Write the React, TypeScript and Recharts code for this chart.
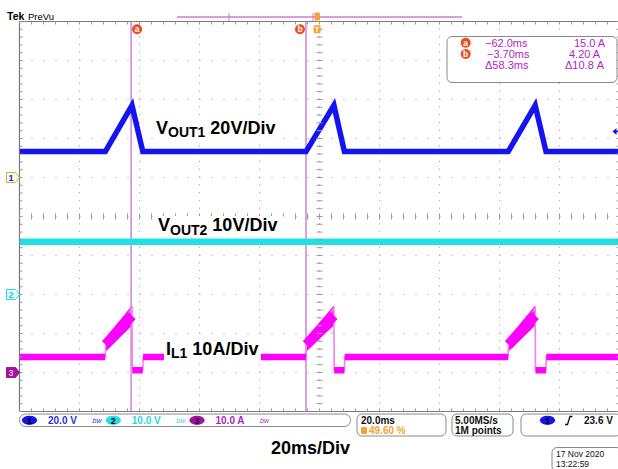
import React from "react";
import {
  ComposedChart,
  Line,
  Area,
  Scatter,
  XAxis,
  YAxis,
  ReferenceLine,
  ReferenceDot,
} from "recharts";

// time base: 20 ms/div, trigger at 49.60 % of the record (t in ms)
const timeTicks = [-99.2, -79.2, -59.2, -39.2, -19.2, 0.8, 20.8, 40.8, 60.8, 80.8, 100.8];
const divTicks = [-5, -4, -3, -2, -1, 0, 1, 2, 3, 4, 5];

// channels: units per div, ground marker position (div from centre)
const channelIds = ["ch1", "ch2", "ch3"];
const channelNames = ["1", "2", "3"];
const channelScale = [20, 10, 10];
const channelOffset = [1, -2, -4];
const channelReadout = ["20.0 V", "10.0 V", "10.0 A"];

// VOUT1 (V)
const vout1Time = [-99.2, -70.6, -61.7, -58.1, -3.7, 5.6, 9.1, 63.7, 72.7, 76.3, 100.8];
const vout1Volts = [13.3, 13.3, 37.0, 13.3, 13.3, 37.0, 13.3, 13.3, 37.0, 13.3, 13.3];

// VOUT2 (V)
const vout2Time = [-99.2, 100.8];
const vout2Volts = [13.5, 13.5];

// IL1 (A)
const il1Time = [
  -99.2, -70.6, -70.5, -61.7, -61.6, -58.1, -58.0, -3.7, -3.6, 5.6, 5.7, 9.1, 9.2,
  63.7, 63.8, 72.7, 72.8, 76.3, 76.4, 100.8,
];
const il1Amps = [
  4.0, 4.0, 7.0, 16.5, 0.6, 0.6, 4.0, 4.0, 7.0, 16.5, 0.6, 0.6, 4.0,
  4.0, 7.0, 16.5, 0.6, 0.6, 4.0, 4.0,
];

// IL1 ripple band on the ramps (A): [low, high] at ramp start and end
const rampStart = [-70.5, -3.6, 63.8];
const rampEnd = [-61.7, 5.6, 72.7];
const rampBandStart = [5.5, 8.8];
const rampBandEnd = [12.2, 17.0];

// cursors
const cursorNames = ["a", "b"];
const cursorTimes = [-62.0, -3.7];
const cursorTimeText = ["\u221262.0ms", "\u22123.70ms", "\u039458.3ms"];
const cursorAmpText = ["15.0 A", "4.20 A", "\u039410.8 A"];
const triggerLevel = 23.6;

const FONT = "'Liberation Sans', Arial, sans-serif";
const blue = "#1414f0";
const cyan = "#22dfe6";
const magenta = "#ff00ff";
const purpleText = "#b026c4";
const cursorColor = "#c983dc";
const orange = "#f5a232";
const tagRed = "#f04a1e";

const vout1Data = vout1Time.map((t, i) => ({ t, v: vout1Volts[i] }));
const vout2Data = vout2Time.map((t, i) => ({ t, v: vout2Volts[i] }));
const il1Data = il1Time.map((t, i) => ({ t, a: il1Amps[i] }));

// flat parts of IL1 drawn thick, edges stay thin
const il1Flats: { t: number; a: number | null }[] = [];
for (let i = 0; i < il1Time.length - 1; i++) {
  if (il1Amps[i] === il1Amps[i + 1]) {
    il1Flats.push({ t: il1Time[i], a: il1Amps[i] });
    il1Flats.push({ t: il1Time[i + 1], a: il1Amps[i + 1] });
    il1Flats.push({ t: il1Time[i + 1], a: null });
  }
}

const mid = (b: number[]) => (b[0] + b[1]) / 2;

// minor graticule ticks, 5 per division
const minorT: number[] = [];
for (let k = 0; k <= 50; k++) minorT.push(timeTicks[0] + (k * 20) / 5);
const minorD: number[] = [];
for (let k = 0; k <= 50; k++) minorD.push(-5 + k * 0.2);
const hTickData = minorT.flatMap((t) => [
  { t, d: 5, dir: "down" },
  { t, d: -5, dir: "up" },
  { t, d: 0, dir: "both" },
]);
const vTickData = minorD.flatMap((d) => [
  { t: timeTicks[0], d, dir: "right" },
  { t: timeTicks[10], d, dir: "left" },
  { t: timeTicks[5], d, dir: "both" },
]);

const gridGray = "#9a9a9a";

function HTick(p: any) {
  const { cx, cy, payload } = p;
  const up = payload.dir === "down" ? 0 : 3;
  const down = payload.dir === "up" ? 0 : 3;
  return <line x1={cx} x2={cx} y1={cy - up} y2={cy + down} stroke={gridGray} strokeWidth={1} />;
}

function VTick(p: any) {
  const { cx, cy, payload } = p;
  const l = payload.dir === "right" ? 0 : 3;
  const r = payload.dir === "left" ? 0 : 3;
  return <line x1={cx - l} x2={cx + r} y1={cy} y2={cy} stroke={gridGray} strokeWidth={1} />;
}

const markerStyle = [
  { fill: "#fffbe0", stroke: "#c9b14a", text: blue },
  { fill: "#eaffff", stroke: "#29d4dc", text: "#1fc3d4" },
  { fill: "#a0149c", stroke: "#a0149c", text: "#f6b0f2" },
];

function ChannelMarker({ cx, cy, i }: { cx: number; cy: number; i: number }) {
  const s = markerStyle[i];
  return (
    <g>
      <path
        d={`M${cx - 13},${cy - 5} H${cx - 4} L${cx},${cy} L${cx - 4},${cy + 5} H${cx - 13} Z`}
        fill={s.fill}
        stroke={s.stroke}
        strokeWidth={1}
      />
      <text x={cx - 8.5} y={cy + 3.5} fontSize={9} fontWeight="bold" fill={s.text} textAnchor="middle" fontFamily={FONT}>
        {channelNames[i]}
      </text>
    </g>
  );
}

function CursorTag({ cx, cy, i }: { cx: number; cy: number; i: number }) {
  const x = i === 0 ? cx + 6 : cx - 6;
  return (
    <g>
      <circle cx={x} cy={cy} r={5} fill={tagRed} />
      <text x={x} y={cy + 3} fontSize={8.5} fontWeight="bold" fill="#fff" textAnchor="middle" fontFamily={FONT}>
        {cursorNames[i]}
      </text>
    </g>
  );
}

function TriggerTag({ cx, cy }: { cx: number; cy: number }) {
  return (
    <g>
      <rect x={cx - 3.5} y={cy - 4} width={7} height={8} rx={1.5} fill={orange} />
      <text x={cx} y={cy + 3} fontSize={7.5} fontWeight="bold" fill="#fff" textAnchor="middle" fontFamily={FONT}>
        T
      </text>
    </g>
  );
}

function LevelArrow({ cx, cy }: { cx: number; cy: number }) {
  return (
    <g>
      <path d={`M${cx - 7},${cy} L${cx - 3},${cy - 3.5} L${cx - 3},${cy + 3.5} Z`} fill={blue} />
      <line x1={cx - 4} x2={cx - 1} y1={cy} y2={cy} stroke={blue} strokeWidth={1.5} />
    </g>
  );
}

function TraceLabel({
  x,
  y,
  main,
  sub,
  rest,
  w,
  below,
}: {
  x: number;
  y: number;
  main: string;
  sub: string;
  rest: string;
  w: number;
  below: number;
}) {
  return (
    <g>
      <rect x={x - 2} y={y - 15} width={w} height={15 + below} fill="#fff" />
      <text x={x} y={y} fontFamily={FONT} fontWeight="bold" fontSize={18} fill="#000">
        <tspan>{main}</tspan>
        <tspan fontSize={14} dy={3.5}>{sub}</tspan>
        <tspan dy={-3.5}>{" " + rest}</tspan>
      </text>
    </g>
  );
}

function Overlay() {
  const pill = (cx: number, fill: string, label: string, tc: string) => (
    <g>
      <ellipse cx={cx} cy={420.3} rx={7.6} ry={4.6} fill={fill} />
      <text x={cx} y={423.6} fontSize={9} fontWeight="bold" fill={tc} textAnchor="middle" fontFamily={FONT}>
        {label}
      </text>
    </g>
  );
  const bw = (x: number, c: string) => (
    <text x={x} y={423} fontSize={7} fontStyle="italic" fill={c} fontFamily={FONT}>
      bw
    </text>
  );
  const chColors = [blue, cyan, "#a0149c"];
  const chText = ["#2e2ee6", "#2fd6e0", purpleText];
  const chTextDark = ["#000", "#000", "#3a003a"];
  const chX = [29.5, 113.3, 197];
  return (
    <svg
      width={618}
      height={469}
      style={{ position: "absolute", left: 0, top: 0, pointerEvents: "none" }}
    >
      {/* header */}
      <text x={7} y={20} fontFamily={FONT} fontWeight="bold" fontSize={10.5} fill="#000">
        Tek
      </text>
      <text x={28} y={20} fontFamily={FONT} fontSize={9.5} fill="#000">
        PreVu
      </text>
      {/* record bar */}
      <line x1={177} x2={462} y1={17} y2={17} stroke="#d27ad8" strokeWidth={1.5} />
      <line x1={229} x2={229} y1={13} y2={21} stroke="#d27ad8" strokeWidth={1} />
      <line x1={313} x2={313} y1={13} y2={21} stroke="#d27ad8" strokeWidth={1} />
      <rect x={314.5} y={12.5} width={5.5} height={8} rx={1} fill={orange} />

      {/* cursor readout */}
      <rect x={447} y={36.5} width={170} height={46} rx={5} fill="#fff" stroke="#8a8a8a" strokeWidth={1} />
      {[0, 1, 2].map((r) => {
        const cy = 42.7 + r * 11.3;
        return (
          <g key={r}>
            {r < 2 && (
              <g>
                <circle cx={465.7} cy={cy} r={5} fill={tagRed} />
                <text x={465.7} y={cy + 3} fontSize={8.5} fontWeight="bold" fill="#fff" textAnchor="middle" fontFamily={FONT}>
                  {cursorNames[r]}
                </text>
              </g>
            )}
            <text x={r === 1 ? 487 : 485} y={cy + 4} fontSize={11} fill={purpleText} fontFamily={FONT}>
              {cursorTimeText[r]}
            </text>
            <text x={[574, 569, 565][r]} y={cy + 4} fontSize={11} fill={purpleText} fontFamily={FONT}>
              {cursorAmpText[r]}
            </text>
          </g>
        );
      })}

      {/* trace labels */}
      <TraceLabel x={156} y={133.5} main="V" sub="OUT1" rest="20V/Div" w={128} below={6} />
      <TraceLabel x={158} y={231} main="V" sub="OUT2" rest="10V/Div" w={128} below={5} />
      <TraceLabel x={166} y={354.5} main="I" sub="L1" rest="10A/Div" w={97} below={9} />

      {/* status bar */}
      <rect x={19.5} y={414} width={331} height={12.5} rx={6} fill="#fff" stroke="#8a8a8a" />
      {channelIds.map((id, i) => (
        <g key={id}>
          {pill(chX[i], chColors[i], channelNames[i], chTextDark[i])}
          <text x={chX[i] + 18.5} y={424.3} fontSize={10} fontWeight="bold" fill={chText[i]} fontFamily={FONT}>
            {channelReadout[i]}
          </text>
          {bw(chX[i] + 63, chText[i])}
        </g>
      ))}
      <rect x={357} y={414} width={89} height={22} rx={5} fill="#fff" stroke="#8a8a8a" />
      <text x={361} y={423.8} fontSize={10} fontWeight="bold" fill="#111" fontFamily={FONT}>
        20.0ms
      </text>
      <rect x={361} y={427} width={6} height={7} rx={1} fill={orange} />
      <text x={369} y={434.3} fontSize={10} fontWeight="bold" fill={orange} fontFamily={FONT}>
        49.60 %
      </text>
      <rect x={452} y={414} width={61} height={22} rx={5} fill="#fff" stroke="#8a8a8a" />
      <text x={455} y={423.8} fontSize={10} fontWeight="bold" fill="#111" fontFamily={FONT}>
        5.00MS/s
      </text>
      <text x={455} y={434.3} fontSize={10} fontWeight="bold" fill="#111" fontFamily={FONT}>
        1M points
      </text>
      <rect x={521} y={414} width={100} height={22} rx={5} fill="#fff" stroke="#8a8a8a" />
      {pill(547.5, blue, "1", "#000")}
      <path d="M565,424.5 L567.5,424.5 L570,416.5 L572.5,416.5" fill="none" stroke="#111" strokeWidth={1.3} />
      <text x={584} y={423.8} fontSize={10} fontWeight="bold" fill="#111" fontFamily={FONT}>
        {triggerLevel.toFixed(1)} V
      </text>

      <text x={271} y={453.5} fontSize={18} fontWeight="bold" fill="#000" fontFamily={FONT}>
        20ms/Div
      </text>

      <rect x={552} y={447.5} width={70} height={24} rx={5} fill="#fff" stroke="#8a8a8a" />
      <text x={556} y={456.5} fontSize={8.5} fill="#111" fontFamily={FONT}>
        17 Nov 2020
      </text>
      <text x={556} y={466.5} fontSize={8.5} fill="#111" fontFamily={FONT}>
        13:22:59
      </text>
    </svg>
  );
}

export default function App() {
  return (
    <div
      style={{
        position: "absolute",
        left: 0,
        top: 0,
        width: 618,
        height: 469,
        overflow: "hidden",
        background: "#fff",
      }}
    >
      <ComposedChart
        width={621}
        height={469}
        margin={{ top: 21.5, right: 1.5, bottom: 57.5, left: 19.5 }}
      >
        <XAxis
          type="number"
          dataKey="t"
          domain={[timeTicks[0], timeTicks[10]]}
          ticks={timeTicks}
          allowDataOverflow
          hide
        />
        <YAxis yAxisId="div" dataKey="d" type="number" domain={[-5, 5]} ticks={divTicks} allowDataOverflow hide />
        {channelIds.map((id, i) => (
          <YAxis
            key={id}
            yAxisId={id}
            type="number"
            domain={[(-5 - channelOffset[i]) * channelScale[i], (5 - channelOffset[i]) * channelScale[i]]}
            allowDataOverflow
            hide
          />
        ))}

        {/* graticule */}
        {timeTicks.slice(1, -1).map((t) => (
          <ReferenceLine key={"gx" + t} x={t} yAxisId="div" stroke={gridGray} strokeDasharray="1 6.8" />
        ))}
        {divTicks.slice(1, -1).map((d) => (
          <ReferenceLine key={"gy" + d} y={d} yAxisId="div" stroke={gridGray} strokeDasharray="1 11" />
        ))}
        <ReferenceLine x={timeTicks[0]} yAxisId="div" stroke="#7a7a7a" strokeWidth={1.2} />
        <ReferenceLine x={timeTicks[10]} yAxisId="div" stroke="#7a7a7a" strokeWidth={1.2} />
        <ReferenceLine y={5} yAxisId="div" stroke="#7a7a7a" strokeWidth={1.2} />
        <ReferenceLine y={-5} yAxisId="div" stroke="#7a7a7a" strokeWidth={1.2} />
        <Scatter data={hTickData} yAxisId="div" shape={HTick} isAnimationActive={false} />
        <Scatter data={vTickData} yAxisId="div" shape={VTick} isAnimationActive={false} />

        {/* cursors */}
        {cursorTimes.map((t) => (
          <ReferenceLine key={"c" + t} x={t} yAxisId="div" stroke={cursorColor} strokeWidth={1.5} />
        ))}

        {/* traces */}
        <Line
          data={vout1Data}
          dataKey="v"
          yAxisId="ch1"
          type="linear"
          stroke={blue}
          strokeWidth={5.5}
          dot={false}
          isAnimationActive={false}
        />
        <Line
          data={vout2Data}
          dataKey="v"
          yAxisId="ch2"
          type="linear"
          stroke={cyan}
          strokeWidth={6.5}
          dot={false}
          isAnimationActive={false}
        />
        <Line
          data={il1Data}
          dataKey="a"
          yAxisId="ch3"
          type="linear"
          stroke="#ff7af6"
          strokeWidth={1.6}
          dot={false}
          isAnimationActive={false}
        />
        {rampStart.map((t0, i) => (
          <Area
            key={"r" + i}
            data={[
              { t: t0, band: rampBandStart },
              { t: rampEnd[i], band: rampBandEnd },
            ]}
            dataKey="band"
            yAxisId="ch3"
            type="linear"
            stroke={magenta}
            strokeWidth={1}
            fill={magenta}
            fillOpacity={1}
            dot={false}
            activeDot={false}
            isAnimationActive={false}
          />
        ))}
        {rampStart.map((t0, i) => (
          <Line
            key={"rc" + i}
            data={[
              { t: t0, a: mid(rampBandStart) },
              { t: rampEnd[i], a: mid(rampBandEnd) },
            ]}
            dataKey="a"
            yAxisId="ch3"
            type="linear"
            stroke={magenta}
            strokeWidth={10}
            strokeLinecap="butt"
            dot={false}
            isAnimationActive={false}
          />
        ))}
        <Line
          data={il1Flats}
          dataKey="a"
          yAxisId="ch3"
          type="linear"
          stroke={magenta}
          strokeWidth={6.5}
          dot={false}
          connectNulls={false}
          isAnimationActive={false}
        />

        {/* markers */}
        {channelIds.map((id, i) => (
          <ReferenceDot
            key={"m" + id}
            x={timeTicks[0]}
            y={0}
            yAxisId={id}
            ifOverflow="visible"
            shape={(p: any) => <ChannelMarker cx={p.cx} cy={p.cy} i={i} />}
          />
        ))}
        {cursorTimes.map((t, i) => (
          <ReferenceDot
            key={"tag" + i}
            x={t}
            y={4.8}
            yAxisId="div"
            ifOverflow="visible"
            shape={(p: any) => <CursorTag cx={p.cx} cy={p.cy} i={i} />}
          />
        ))}
        <ReferenceDot x={0} y={4.8} yAxisId="div" ifOverflow="visible" shape={(p: any) => <TriggerTag cx={p.cx} cy={p.cy} />} />
        <ReferenceDot
          x={timeTicks[10]}
          y={triggerLevel}
          yAxisId="ch1"
          ifOverflow="visible"
          shape={(p: any) => <LevelArrow cx={p.cx} cy={p.cy} />}
        />
      </ComposedChart>
      <Overlay />
    </div>
  );
}
